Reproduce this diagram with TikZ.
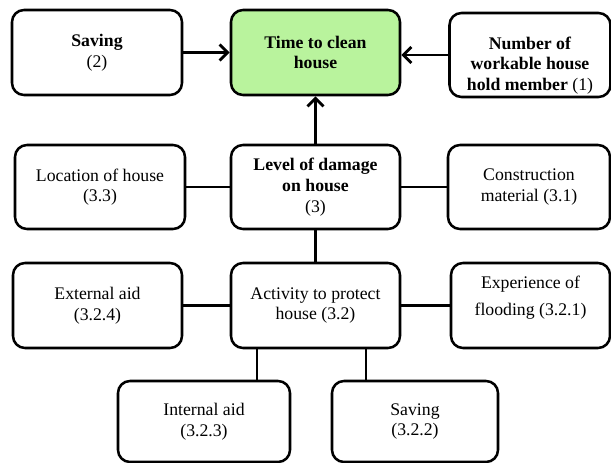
\documentclass[tikz,border=0pt]{standalone}
\usepackage{fontspec}
\setmainfont{Liberation Serif}
\usetikzlibrary{arrows.meta}
\definecolor{goalgreen}{RGB}{185,243,157}
\tikzset{
  box/.style={draw=black, line width=1.9pt, rounded corners=9pt, fill=white,
    align=center, inner sep=2pt,
    font=\fontsize{13.3pt}{15.5pt}\selectfont},
  goal/.style={box, fill=goalgreen},
  boxtext/.style={align=center, font=\fontsize{13.3pt}{15.5pt}\selectfont},
  link/.style={line width=1.9pt},
  arr/.style={line width=2.2pt, -{Straight Barb[length=6pt,width=12pt,line width=2.2pt]}},
}
\begin{document}
\begin{tikzpicture}[x=0.75pt,y=-0.75pt]
\useasboundingbox (0,0) rectangle (611,463);

% top row
\node[box, minimum width=127.5pt, minimum height=63.75pt] (sav) at (97,52.5)
  {\textbf{Saving}\\(2)};
\node[goal, minimum width=126.75pt, minimum height=63.75pt] (time) at (315.5,52.5)
  {\textbf{Time to clean}\\\textbf{house}};
\node[box, minimum width=120.75pt, minimum height=63pt] (num) at (530,55) {};
\node[boxtext] (numtext) at (530,65.5)
  {\textbf{Number of}\\\textbf{workable house}\\\textbf{hold member} (1)};

% second row
\node[box, minimum width=127.5pt, minimum height=63pt] (loc) at (100,187)
  {Location of house\\(3.3)};
\node[box, minimum width=126.75pt, minimum height=63pt] (lev) at (315.5,187)
  {\textbf{Level of damage}\\\textbf{on house}\\(3)};
\node[box, minimum width=121.5pt, minimum height=63pt] (con) at (529,187)
  {Construction\\material (3.1)};

% third row
\node[box, minimum width=126.75pt, minimum height=63.75pt] (ext) at (97.5,305.5)
  {External aid\\(3.2.4)};
\node[box, minimum width=126.75pt, minimum height=63.75pt] (act) at (315.5,305.5)
  {Activity to protect\\house (3.2)};
\node[box, minimum width=119.25pt, minimum height=63.75pt] (exp) at (530.5,305.5) {};
\node[boxtext] (exptext) at (530.5,297.5)
  {Experience of\\[5pt]flooding (3.2.1)};

% bottom row
\node[box, minimum width=129pt, minimum height=60.75pt] (int) at (204,421.5)
  {Internal aid\\(3.2.3)};
\node[box, minimum width=124.5pt, minimum height=60.75pt] (sv2) at (415,421.5)
  {Saving\\(3.2.2)};

% drop points under the activity box
\coordinate (dropA) at (257,0);
\coordinate (dropB) at (366,0);

% arrows into the goal
\draw[arr] (sav.east) -- (time.west);
\draw[arr] (num.west) -- (time.east |- num.west);
\draw[arr] (lev.north) -- (time.south);

% plain links
\draw[link] (loc.east) -- (lev.west);
\draw[link] (lev.east) -- (con.west);
\draw[link] (lev.south) -- (act.north);
\draw[link] (ext.east) -- (act.west);
\draw[link] (act.east) -- (exp.west);
\draw[link] (act.south -| dropA) -- (int.north -| dropA);
\draw[link] (act.south -| dropB) -- (sv2.north -| dropB);
\end{tikzpicture}
\end{document}
